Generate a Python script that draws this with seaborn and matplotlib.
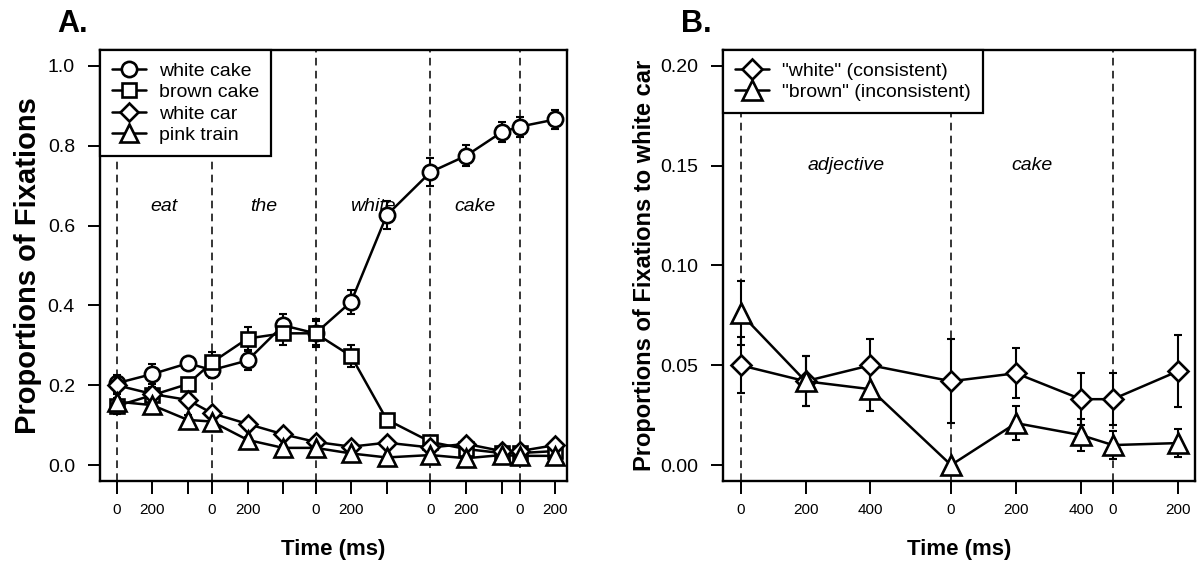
import numpy as np
import pandas as pd
import seaborn as sns
import matplotlib.pyplot as plt

# Panel A: fixation proportions to each object over time
time_a = [0, 200, 400, 535, 735, 935, 1117, 1317, 1517, 1763, 1963, 2163, 2265, 2465]
tick_labels_a = ['0', '200', '', '0', '200', '', '0', '200', '', '0', '200', '', '0', '200']
onsets_a = [0, 535, 1117, 1763, 2265]
words_a = ['eat', 'the', 'white', 'cake']

white_cake = [0.205, 0.228, 0.255, 0.238, 0.262, 0.350, 0.330, 0.409, 0.626, 0.734, 0.775, 0.834, 0.848, 0.866]
white_cake_se = [0.020, 0.025, 0.015, 0.020, 0.023, 0.028, 0.035, 0.030, 0.035, 0.036, 0.026, 0.025, 0.025, 0.023]
brown_cake = [0.148, 0.175, 0.203, 0.257, 0.317, 0.330, 0.330, 0.273, 0.114, 0.058, 0.040, 0.030, 0.030, 0.035]
brown_cake_se = [0.020, 0.020, 0.015, 0.025, 0.028, 0.030, 0.030, 0.028, 0.012, 0.010, 0.008, 0.008, 0.008, 0.008]
white_car = [0.200, 0.178, 0.163, 0.130, 0.103, 0.077, 0.058, 0.046, 0.056, 0.044, 0.053, 0.035, 0.035, 0.050]
white_car_se = [0.020, 0.015, 0.012, 0.010, 0.010, 0.008, 0.008, 0.007, 0.007, 0.006, 0.006, 0.005, 0.005, 0.006]
pink_train = [0.159, 0.150, 0.113, 0.109, 0.063, 0.043, 0.043, 0.029, 0.019, 0.025, 0.017, 0.025, 0.023, 0.023]
pink_train_se = [0.020, 0.020, 0.012, 0.010, 0.008, 0.007, 0.007, 0.006, 0.005, 0.005, 0.005, 0.005, 0.005, 0.005]

# Panel B: fixations to white car by adjective
time_b = [0, 200, 400, 648, 848, 1048, 1146, 1346]
tick_labels_b = ['0', '200', '400', '0', '200', '400', '0', '200']
onsets_b = [0, 648, 1146]
words_b = ['adjective', 'cake']

white_cons = [0.050, 0.042, 0.050, 0.042, 0.046, 0.033, 0.033, 0.047]
white_cons_se = [0.014, 0.0125, 0.013, 0.021, 0.0125, 0.013, 0.013, 0.018]
brown_incons = [0.076, 0.042, 0.038, 0.000, 0.021, 0.015, 0.010, 0.011]
brown_incons_se = [0.016, 0.0125, 0.011, 0.0, 0.0085, 0.008, 0.007, 0.007]


def draw_series(ax, x, y, err, marker, ms, label):
    ax.errorbar(x, y, yerr=err, fmt='none', ecolor='black', elinewidth=1.5,
                capsize=3, capthick=1.5, zorder=2)
    sns.lineplot(x=x, y=y, ax=ax, color='black', lw=1.8, marker=marker, markersize=ms,
                 markerfacecolor='white', markeredgecolor='black', markeredgewidth=1.9,
                 label=label, zorder=3)


def style_axes(ax, ylabel, ylabel_size, ylabel_pad):
    for s in ax.spines.values():
        s.set_visible(True)
        s.set_linewidth(1.7)
        s.set_color('black')
    ax.tick_params(axis='both', direction='out', length=9, width=1.4, color='black')
    ax.tick_params(axis='y', labelsize=14, pad=9)
    ax.tick_params(axis='x', labelsize=11, pad=7)
    ax.set_ylabel(ylabel, fontsize=ylabel_size, fontweight='bold', labelpad=ylabel_pad)
    ax.set_xlabel('Time (ms)', fontsize=16, fontweight='bold', labelpad=16)


def make_legend(ax):
    leg = ax.legend(loc='upper left', bbox_to_anchor=(0, 1), borderaxespad=0,
                    fancybox=False, framealpha=1, edgecolor='black', fontsize=14,
                    handlelength=1.75, handletextpad=0.65, borderpad=0.62,
                    labelspacing=0.2, numpoints=1)
    leg.get_frame().set_linewidth(1.6)
    leg.set_zorder(5)


sns.set_style('ticks')
plt.rcParams['font.family'] = ['Liberation Sans', 'DejaVu Sans']
plt.rcParams['text.color'] = 'black'
plt.rcParams['axes.labelcolor'] = 'black'
plt.rcParams['xtick.color'] = 'black'
plt.rcParams['ytick.color'] = 'black'

fig = plt.figure(figsize=(11.99, 5.72), dpi=100)
ax1 = fig.add_axes([0.0834, 0.1591, 0.3895, 0.7535])
ax2 = fig.add_axes([0.6030, 0.1591, 0.3937, 0.7535])

# ---- Panel A
for x0 in onsets_a:
    ax1.axvline(x0, color='black', lw=1.1, ls=(0, (5, 3.5)), zorder=1)
for i, w in enumerate(words_a):
    ax1.text((onsets_a[i] + onsets_a[i + 1]) / 2, 0.647, w, style='italic',
             fontsize=14, ha='center', va='center', zorder=1)

draw_series(ax1, time_a, white_cake, white_cake_se, 'o', 11, 'white cake')
draw_series(ax1, time_a, brown_cake, brown_cake_se, 's', 10, 'brown cake')
draw_series(ax1, time_a, white_car, white_car_se, 'D', 9.5, 'white car')
draw_series(ax1, time_a, pink_train, pink_train_se, '^', 13, 'pink train')

ax1.set_xlim(-94, 2530)
ax1.set_ylim(-0.04, 1.04)
ax1.set_xticks(time_a)
ax1.set_xticklabels(tick_labels_a)
ax1.set_yticks([0.0, 0.2, 0.4, 0.6, 0.8, 1.0])
ax1.set_yticklabels(['0.0', '0.2', '0.4', '0.6', '0.8', '1.0'])
style_axes(ax1, 'Proportions of Fixations', 21, 4)
make_legend(ax1)

# ---- Panel B
for x0 in onsets_b:
    ax2.axvline(x0, color='black', lw=1.1, ls=(0, (5, 3.5)), zorder=1)
for i, w in enumerate(words_b):
    ax2.text((onsets_b[i] + onsets_b[i + 1]) / 2, 0.15, w, style='italic',
             fontsize=14, ha='center', va='center', zorder=1)

draw_series(ax2, time_b, white_cons, white_cons_se, 'D', 10, '"white" (consistent)')
draw_series(ax2, time_b, brown_incons, brown_incons_se, '^', 14, '"brown" (inconsistent)')

ax2.set_xlim(-54, 1399)
ax2.set_ylim(-0.008, 0.208)
ax2.set_xticks(time_b)
ax2.set_xticklabels(tick_labels_b)
ax2.set_yticks([0.0, 0.05, 0.10, 0.15, 0.20])
ax2.set_yticklabels(['0.00', '0.05', '0.10', '0.15', '0.20'])
style_axes(ax2, 'Proportions of Fixations to white car', 17, 3)
make_legend(ax2)

fig.text(57 / 1199, 1 - 32 / 572, 'A.', fontsize=22, fontweight='bold', va='baseline')
fig.text(681 / 1199, 1 - 32 / 572, 'B.', fontsize=22, fontweight='bold', va='baseline')

fig.savefig('out.png', dpi=100)
